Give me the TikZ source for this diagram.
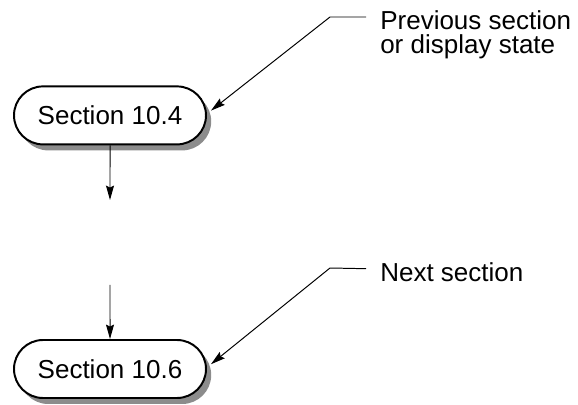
\documentclass[tikz,border=0pt]{standalone}
\usepackage{fontspec}
\setmainfont{Liberation Sans}
\usetikzlibrary{arrows.meta,shapes.misc,shadows}

\begin{document}
\begin{tikzpicture}[every node/.style={font=\fontsize{18.5}{17}\selectfont},
  sect/.style={draw,line width=1.4pt,fill=white,rounded rectangle,minimum width=4.8cm,minimum height=1.45cm,inner sep=0pt,
    drop shadow={shadow xshift=0.13cm,shadow yshift=-0.15cm,fill=black!45,opacity=1}},
  arr/.style={-{Stealth[length=0.36cm,width=0.2cm,inset=0.05cm]},line width=0.7pt},
  lbl/.style={inner sep=0pt,align=left}]
\useasboundingbox (0,0) rectangle (14.45,10.125);
\node[sect] (s4) at (2.75,7.24) {Section 10.4};
\node[sect] (s6) at (2.75,0.9) {Section 10.6};
\coordinate (a1) at (2.75,5.125);
\draw[arr] (s4) -- (a1);
\coordinate (a2) at (2.75,3.0);
\draw[arr] (a2) -- (s6);
\node[lbl,anchor=north west] (prev) at (9.5,9.875) {Previous section\\or display state};
\coordinate (p0) at ([xshift=-0.35cm,yshift=-0.175cm]prev.north west);
\coordinate (k1) at (8.25,9.7);
\draw[arr] (p0) -- (k1) -- ([xshift=1mm,yshift=1.2mm]s4.east);
\node[lbl,anchor=base west] (next) at (9.5,3.075) {Next section};
\coordinate (n0) at ([xshift=-0.35cm,yshift=0.1cm]next.west);
\coordinate (k2) at (8.25,3.425);
\draw[arr] (n0) -- (k2) -- ([xshift=1mm,yshift=1.2mm]s6.east);
\end{tikzpicture}
\end{document}
